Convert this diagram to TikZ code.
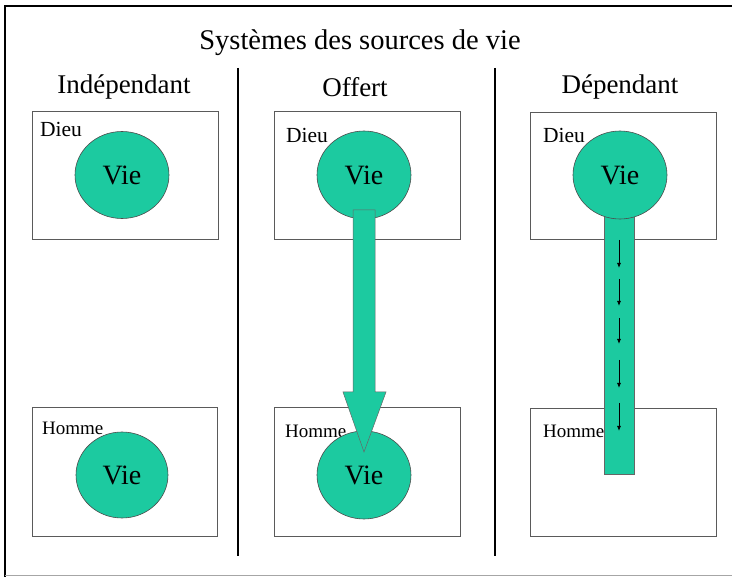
\documentclass[tikz,border=0pt]{standalone}
\usepackage{fontspec}
\setmainfont{Liberation Serif}
\definecolor{vie}{RGB}{28,202,160}
\definecolor{boxline}{RGB}{90,90,90}
\tikzset{
  panel/.style={draw=boxline, line width=1pt},
  vieball/.style={ellipse, draw=black!70, line width=0.6pt, fill=vie},
  flowbar/.style={fill=vie, draw=black!60, line width=0.5pt},
  sep/.style={draw=black, line width=2pt},
  heading/.style={font=\fontsize{27}{30}\selectfont, anchor=center},
  tag/.style={font=\fontsize{19}{21}\selectfont, anchor=base west, inner sep=0pt},
  godtag/.style={tag, font=\fontsize{21.5}{23}\selectfont},
  vietext/.style={font=\fontsize{28}{30}\selectfont},
  drip/.style={-{Latex[length=5pt,width=4pt]}, line width=0.8pt}
}
\usetikzlibrary{arrows.meta,shapes.geometric}
\begin{document}
\begin{tikzpicture}[x=1pt,y=-1pt]
\useasboundingbox (0,0) rectangle (732,577);
\fill[white] (0,0) rectangle (732,577);
% outer frame
\draw[black, line width=2pt] (5,577) -- (5,6) -- (732,6);
\draw[black!35, line width=1pt] (5,576) -- (732,576);

% title and column headings
\node[font=\fontsize{28.5}{30}\selectfont] (title) at (360,43) {Systèmes des sources de vie};
\node[heading] (h1) at (124,87) {Indépendant};
\node[heading] (h2) at (355,87) {Offert};
\node[heading] (h3) at (620,87) {Dépendant};

% column separators
\draw[sep] (238,68) -- (238,556);
\draw[sep] (495,68) -- (495,556);

% panels: Dieu (top) and Homme (bottom)
\draw[panel] (32,112) rectangle (218,240);
\draw[panel] (32,408) rectangle (217,537);
\draw[panel] (274,112) rectangle (460,240);
\draw[panel] (274,408) rectangle (460,537);
\draw[panel] (530,113) rectangle (716,240);
\draw[panel] (530,409) rectangle (716,537);

\node[godtag] (d1) at (40,137) {Dieu};
\node[tag] (m1) at (42,435) {Homme};
\node[godtag] (d2) at (286,143) {Dieu};
\node[tag] (m2) at (285,438) {Homme};
\node[godtag] (d3) at (543,143) {Dieu};
\node[tag] (m3) at (543,438) {Homme};

% Indépendant: separate lives
\node[vieball, minimum width=94pt, minimum height=87pt, vietext] (v1a) at (122,175) {Vie};
\node[vieball, minimum width=92pt, minimum height=86pt, vietext] (v1b) at (122,475) {Vie};

% Offert: life handed down by a broad arrow
\node[vieball, minimum width=94pt, minimum height=88pt, vietext] (v2a) at (364,175) {Vie};
\node[vieball, minimum width=94pt, minimum height=88pt, vietext] (v2b) at (364,475) {Vie};
\coordinate (tip) at (364,452);
\draw[flowbar] (353,210) -- (353,392) -- (343,392) -- (tip) -- (386,392) -- (375,392) -- (375,210) -- cycle;

% Dépendant: a continuous channel from Dieu into Homme
\draw[flowbar] (604,205) rectangle (634,474);
\node[vieball, minimum width=94pt, minimum height=88pt, vietext] (v3a) at (620,175) {Vie};
\foreach \ya/\yb in {240/268, 279/306, 318/344, 360/388, 403/431}
  \draw[drip] (619,\ya) -- (619,\yb);
\end{tikzpicture}
\end{document}
